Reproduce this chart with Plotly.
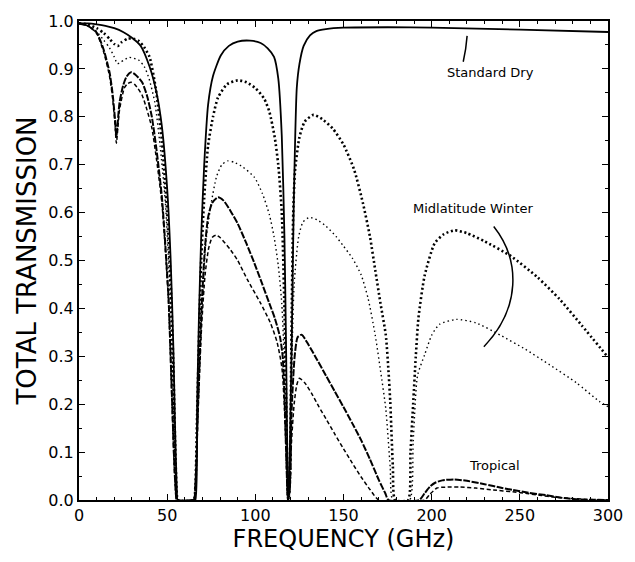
import plotly.graph_objects as go

# ---- data ----
dry_f = [0, 5, 10, 15, 20, 25, 30, 35, 40, 44, 47, 50, 52, 53.5, 54.5, 55.5, 56,
         65, 66, 67, 68, 69.3, 71, 73.2, 76, 80.4, 85, 90, 97, 103, 107, 110.6, 113, 115, 116.5, 117.5, 118.3, 118.8,
         119.3, 120, 120.7, 121.8, 123.5, 125, 127.4, 131, 134.6, 140, 150, 175, 200, 250, 300]
dry_t = [0.995, 0.995, 0.993, 0.99, 0.985, 0.977, 0.965, 0.948, 0.905, 0.85, 0.78, 0.65, 0.5, 0.32, 0.15, 0.02, 0,
         0, 0.0, 0.2, 0.38, 0.55, 0.7, 0.825, 0.885, 0.928, 0.948, 0.957, 0.959, 0.954, 0.943, 0.925, 0.88, 0.76, 0.55, 0.3, 0.05, 0.0,
         0.05, 0.2, 0.344, 0.62, 0.86, 0.91, 0.948, 0.97, 0.979, 0.983, 0.986, 0.987, 0.986, 0.982, 0.977]

mw_hi_f = [0, 5, 10, 14, 17.5, 20, 22, 24, 27.5, 31, 34, 37, 40, 43.5, 47, 50, 52, 53.5, 54.5, 55.5, 56,
           65, 66, 67, 69.3, 71, 73.2, 76, 78.8, 84, 90, 95, 100, 105, 108, 111, 113, 115, 116.5, 117.5, 118.3, 118.8,
           119.5, 120.5, 121.5, 122.5, 125, 128, 133, 138, 144, 150, 156, 161, 165, 168, 171, 174, 175.5, 176.5, 178, 179.3,
           186.6, 188, 189.5, 191, 192.5, 196, 201.7, 207, 213, 220, 230, 245, 260, 272.6, 285, 300]
mw_hi_t = [0.995, 0.993, 0.985, 0.975, 0.962, 0.952, 0.948, 0.955, 0.963, 0.963, 0.958, 0.945, 0.925, 0.86, 0.75, 0.6, 0.45, 0.28, 0.12, 0.01, 0,
           0, 0.03, 0.18, 0.5, 0.63, 0.74, 0.8, 0.84, 0.868, 0.876, 0.872, 0.86, 0.838, 0.81, 0.757, 0.7, 0.6, 0.4, 0.2, 0.03, 0,
           0.03, 0.35, 0.6, 0.687, 0.757, 0.79, 0.804, 0.795, 0.775, 0.742, 0.69, 0.62, 0.55, 0.48, 0.41, 0.344, 0.27, 0.206, 0.07, 0,
           0, 0.1, 0.2, 0.3, 0.38, 0.468, 0.536, 0.555, 0.563, 0.557, 0.54, 0.509, 0.465, 0.419, 0.365, 0.298]

mw_lo_f = [0, 5, 10, 14, 17.3, 20, 21.8, 24, 28.5, 34, 37, 39.7, 43, 46, 49, 51, 52.5, 54, 55.3, 56,
           65, 66, 67.5, 70, 72, 75, 78, 81, 84.4, 88, 93, 99.4, 104, 108, 110.6, 113, 115, 116.5, 117.5, 118.5,
           119.5, 120.5, 122, 124.6, 127, 130.7, 135, 140, 145.8, 150, 155, 160, 164, 168, 171, 174, 176.5, 178,
           187.5, 189.5, 192, 196, 200, 204.5, 214, 225, 239, 253, 267, 282, 295, 300]
mw_lo_t = [0.995, 0.99, 0.978, 0.96, 0.944, 0.925, 0.911, 0.915, 0.924, 0.918, 0.905, 0.88, 0.83, 0.74, 0.62, 0.48, 0.33, 0.14, 0.01, 0,
           0, 0.03, 0.2, 0.42, 0.54, 0.62, 0.675, 0.7, 0.708, 0.705, 0.695, 0.674, 0.64, 0.595, 0.55, 0.49, 0.41, 0.28, 0.13, 0,
           0.03, 0.25, 0.45, 0.55, 0.58, 0.59, 0.585, 0.572, 0.55, 0.53, 0.505, 0.47, 0.42, 0.344, 0.27, 0.19, 0.068, 0,
           0, 0.12, 0.26, 0.303, 0.344, 0.367, 0.377, 0.37, 0.344, 0.315, 0.282, 0.245, 0.206, 0.195]

tr_a_f = [0, 5, 10, 14, 17.3, 19, 20.3, 21.2, 22, 23, 25, 27, 29.6, 32, 35.8, 38.5, 41.3, 44, 47, 49, 50.8, 52.5, 54, 55, 55.5,
          65, 66, 67.5, 69.5, 71.5, 73.2, 75.5, 78.8, 82, 86, 90, 95, 99.4, 104, 108, 111, 114, 115.5, 116.5, 117.5, 118.5,
          119.5, 120.5, 122.3, 124, 126.3, 130, 135, 140, 145, 150, 155, 160, 165, 170, 173.7, 175.5,
          193, 196, 199, 202, 206, 212.8, 220, 230, 240, 246, 255, 265, 275, 285, 300]
tr_a_t = [0.995, 0.99, 0.976, 0.94, 0.893, 0.85, 0.8, 0.76, 0.79, 0.83, 0.865, 0.884, 0.893, 0.888, 0.872, 0.845, 0.8, 0.73, 0.633, 0.53, 0.42, 0.24, 0.08, 0.01, 0,
          0, 0.03, 0.2, 0.4, 0.53, 0.59, 0.62, 0.632, 0.625, 0.603, 0.577, 0.535, 0.495, 0.45, 0.41, 0.38, 0.34, 0.3, 0.22, 0.1, 0,
          0.02, 0.18, 0.3, 0.34, 0.345, 0.325, 0.293, 0.26, 0.227, 0.194, 0.16, 0.125, 0.085, 0.042, 0.014, 0,
          0, 0.014, 0.028, 0.036, 0.041, 0.043, 0.04, 0.033, 0.025, 0.021, 0.015, 0.01, 0.004, 0.001, 0]

tr_b_f = [0, 5, 10, 14, 17.3, 19, 20.3, 21.2, 22, 23, 25.7, 27.5, 29.6, 32, 35.8, 38.5, 41.3, 44, 47, 49, 50.8, 52.5, 54, 55, 55.5,
          65, 66, 67.5, 69.5, 71.5, 73.5, 75.5, 77.7, 80, 86, 90, 95.5, 102.8, 108.4, 112.3, 115.1, 116.5, 117.5, 118.5,
          119.5, 120.5, 122, 123.5, 125, 128, 132, 136, 140, 145, 150, 155, 160, 165, 170,
          196, 199, 203, 209, 216, 225, 235, 246, 255, 261, 270, 280, 290, 300]
tr_b_t = [0.995, 0.99, 0.974, 0.935, 0.885, 0.84, 0.79, 0.745, 0.775, 0.815, 0.86, 0.869, 0.872, 0.866, 0.845, 0.815, 0.777, 0.71, 0.62, 0.52, 0.41, 0.23, 0.07, 0.01, 0,
          0, 0.03, 0.18, 0.36, 0.47, 0.525, 0.548, 0.553, 0.548, 0.522, 0.5, 0.46, 0.412, 0.371, 0.33, 0.275, 0.19, 0.09, 0,
          0.02, 0.12, 0.2, 0.24, 0.254, 0.245, 0.222, 0.195, 0.17, 0.138, 0.107, 0.077, 0.048, 0.022, 0,
          0, 0.012, 0.025, 0.027, 0.027, 0.025, 0.021, 0.017, 0.013, 0.01, 0.006, 0.003, 0.001, 0]

x_ticks = [0, 50, 100, 150, 200, 250, 300]
y_ticks = [0.0, 0.1, 0.2, 0.3, 0.4, 0.5, 0.6, 0.7, 0.8, 0.9, 1.0]

series = [
    (dry_f, dry_t, dict(color="black", width=1.8, dash="solid")),
    (mw_hi_f, mw_hi_t, dict(color="black", width=2.6, dash="2px,2.6px")),
    (mw_lo_f, mw_lo_t, dict(color="black", width=1.4, dash="1.5px,3px")),
    (tr_a_f, tr_a_t, dict(color="black", width=2.0, dash="7px,1.5px")),
    (tr_b_f, tr_b_t, dict(color="black", width=1.5, dash="4px,2.5px")),
]

fig = go.Figure()
for f, t, ln in series:
    fig.add_trace(go.Scatter(x=f, y=t, mode="lines",
                             line=dict(shape="spline", smoothing=0.6, **ln),
                             showlegend=False, hoverinfo="skip"))

font_tick = dict(family="DejaVu Sans", size=16, color="black")

fig.update_layout(
    width=635, height=562,
    margin=dict(l=79, r=19, t=15, b=62),
    paper_bgcolor="white", plot_bgcolor="white",
    xaxis=dict(range=[0, 300], tickvals=x_ticks, ticktext=[str(v) for v in x_ticks],
               ticks="inside", ticklen=6, tickwidth=1.2, tickcolor="black",
               minor=dict(dtick=10, ticks="inside", ticklen=3, tickcolor="black"),
               showline=True, linewidth=2, linecolor="black", mirror="allticks",
               showgrid=False, zeroline=False, tickfont=font_tick,
               title=dict(text="FREQUENCY (GHz)", font=dict(family="DejaVu Sans", size=24, color="black"),
                          standoff=4)),
    yaxis=dict(range=[0, 1], tickvals=y_ticks, ticktext=[f"{v:.1f}" for v in y_ticks],
               ticks="inside", ticklen=6, tickwidth=1.2, tickcolor="black",
               minor=dict(dtick=0.05, ticks="inside", ticklen=3, tickcolor="black"),
               showline=True, linewidth=2, linecolor="black", mirror="allticks",
               showgrid=False, zeroline=False, tickfont=font_tick,
               title=dict(text="TOTAL TRANSMISSION", font=dict(family="DejaVu Sans", size=26, color="black"),
                          standoff=4)),
)

ann_font = dict(family="DejaVu Sans", size=13, color="black")
fig.add_annotation(x=233.5, y=0.893, text="Standard Dry", showarrow=False, font=ann_font)
fig.add_annotation(x=224, y=0.608, text="Midlatitude Winter", showarrow=False, font=ann_font)
fig.add_annotation(x=235.8, y=0.072, text="Tropical", showarrow=False, font=ann_font)

fig.add_shape(type="path", path="M 220.1 0.969 Q 219.5 0.94 217.9 0.915",
              line=dict(color="black", width=1.5))
fig.add_shape(type="path", path="M 235.2 0.571 C 250.5 0.5, 250.5 0.4, 229.6 0.32",
              line=dict(color="black", width=1.5))

fig.write_html("out.html")
